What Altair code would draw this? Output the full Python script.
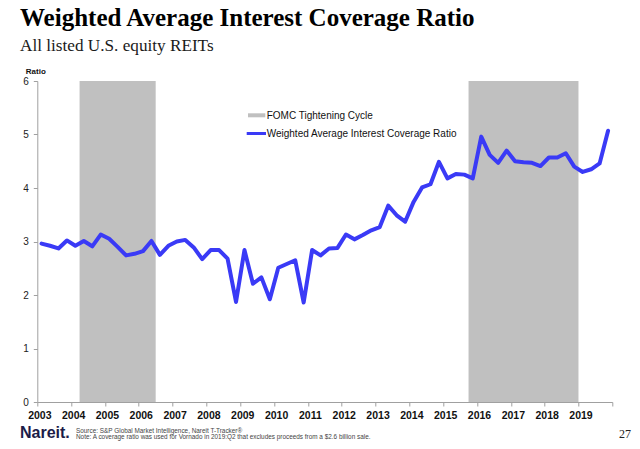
import altair as alt
import pandas as pd

# Quarterly weighted average interest coverage ratio, 2003Q1 .. 2019Q4
start_year = 2003
ratio = [
    2.96, 2.92, 2.87, 3.02,   # 2003
    2.92, 3.01, 2.91, 3.13,   # 2004
    3.05, 2.90, 2.74, 2.77,   # 2005
    2.82, 3.01, 2.75, 2.92,   # 2006
    3.00, 3.03, 2.89, 2.67,   # 2007
    2.84, 2.84, 2.68, 1.87,   # 2008
    2.84, 2.21, 2.33, 1.92,   # 2009
    2.51, 2.58, 2.65, 1.86,   # 2010
    2.84, 2.74, 2.87, 2.88,   # 2011
    3.13, 3.04, 3.12, 3.21,   # 2012
    3.27, 3.67, 3.49, 3.37,   # 2013
    3.74, 4.01, 4.07, 4.49,   # 2014
    4.18, 4.26, 4.25, 4.18,   # 2015
    4.96, 4.62, 4.47, 4.70,   # 2016
    4.50, 4.48, 4.47, 4.41,   # 2017
    4.57, 4.57, 4.65, 4.40,   # 2018
    4.30, 4.35, 4.46, 5.07,   # 2019
]

# FOMC tightening cycles (decimal years)
cycle_start = [2004.25, 2015.75]
cycle_end = [2006.5, 2019.0]

year_ticks = list(range(2003, 2021))
y_ticks = [0, 1, 2, 3, 4, 5, 6]

title_text = "Weighted Average Interest Coverage Ratio"
subtitle_text = "All listed U.S. equity REITs"
legend_labels = ["FOMC Tightening Cycle", "Weighted Average Interest Coverage Ratio"]
source_text = "Source: S&P Global Market Intelligence, Nareit T-Tracker®"
note_text = "Note: A coverage ratio was used for Vornado in 2019:Q2 that excludes proceeds from a $2.6 billion sale."
page_number = "27"

BLUE = "#3a3af6"
GRAY = "#c0c0c0"
AXIS_GRAY = "#a0a0a0"

line_df = pd.DataFrame({
    "t": [start_year + 0.125 + 0.25 * i for i in range(len(ratio))],
    "ratio": ratio,
})
cycle_df = pd.DataFrame({"start": cycle_start, "end": cycle_end,
                         "lo": [0] * len(cycle_start), "hi": [6] * len(cycle_start)})

x_scale = alt.Scale(domain=[2003, 2020], nice=False, zero=False)
y_scale = alt.Scale(domain=[0, 6], nice=False)

x_axis = alt.Axis(values=year_ticks, format="d",
                  labelExpr="datum.value == 2020 ? '' : datum.label",
                  title=None, grid=False, domainColor=AXIS_GRAY, tickColor=AXIS_GRAY,
                  tickSize=4, labelPadding=4, labelOffset=2,
                  labelFont="Liberation Sans", labelFontWeight="bold", labelFontSize=10.5,
                  labelColor="#111", labelFlush=False, labelOverlap=False)
y_axis = alt.Axis(values=y_ticks, format="d", title=None, grid=False,
                  domainColor=AXIS_GRAY, tickColor=AXIS_GRAY, tickSize=4, labelPadding=5,
                  labelFont="Liberation Sans", labelFontSize=10, labelColor="#222")

shade = alt.Chart(cycle_df).mark_rect(color=GRAY).encode(
    x=alt.X("start:Q", scale=x_scale, axis=x_axis),
    x2="end:Q",
    y=alt.Y("lo:Q", scale=y_scale, axis=y_axis),
    y2="hi:Q",
)

line = alt.Chart(line_df).mark_line(color=BLUE, strokeWidth=4, strokeJoin="round", strokeCap="round").encode(
    x=alt.X("t:Q", scale=x_scale, axis=x_axis),
    y=alt.Y("ratio:Q", scale=y_scale, axis=y_axis),
)

one = pd.DataFrame({"k": [0]})
leg_rect = alt.Chart(one).mark_rect(color=GRAY).encode(
    x=alt.value(210.7), x2=alt.value(228), y=alt.value(32.3), y2=alt.value(36.3))
leg_line = alt.Chart(one).mark_rule(color=BLUE, strokeWidth=3).encode(
    x=alt.value(209.4), x2=alt.value(228.7), y=alt.value(52.5))


def label(txt, x, y, size, font="Liberation Sans", weight="normal", color="#000", align="left"):
    return alt.Chart(pd.DataFrame({"t": [txt]})).mark_text(
        align=align, baseline="alphabetic", fontSize=size, font=font,
        fontWeight=weight, color=color).encode(
        x=alt.value(x), y=alt.value(y), text="t:N")


texts = [
    label(title_text, -17.3, -55, 25, font="Liberation Serif", weight="bold", color="#000"),
    label(subtitle_text, -17.3, -30, 17.2, font="Liberation Serif", color="#1a1a1a"),
    label("Ratio", -1.5, -7, 8, weight="bold", color="#111", align="center"),
    label(legend_labels[0], 229.4, 38, 10, color="#111"),
    label(legend_labels[1], 229.4, 55.5, 10, color="#111"),
    label("Nareit.", -17.3, 357, 16, weight="bold", color="#1c1c48"),
    label(source_text, 38.7, 352, 6.4, color="#444"),
    label(note_text, 38.7, 358, 6.4, color="#444"),
    label(page_number, 587.7, 357, 12, font="Liberation Serif", color="#222", align="center"),
]

chart = alt.layer(shade, line, leg_rect, leg_line, *texts).properties(
    width=575, height=321,
    padding={"left": 29.3, "top": 73, "right": 19.7, "bottom": 39},
    autosize=alt.AutoSizeParams(type="none"),
    background="white",
).configure_view(stroke=None)

chart.save("out.html", embed_options={"renderer": "svg", "actions": False})
